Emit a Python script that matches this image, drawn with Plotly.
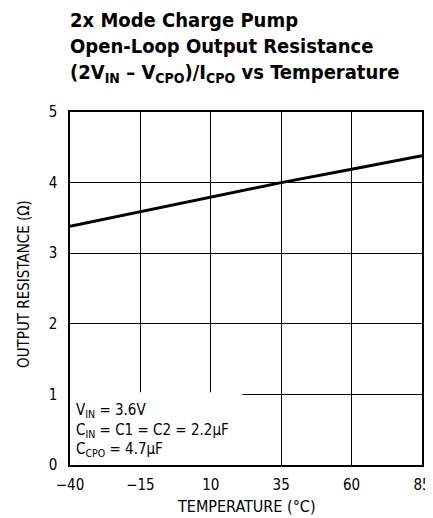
import plotly.graph_objects as go

temperature = [-40, -15, 10, 35, 60, 85]
resistance = [3.38, 3.59, 3.80, 4.00, 4.19, 4.38]
x_ticks = [-40, -15, 10, 35, 60, 85]
y_ticks = [0, 1, 2, 3, 4, 5]

FONT = "DejaVu Sans Condensed, Liberation Sans Narrow, sans-serif"

fig = go.Figure()
fig.add_trace(go.Scatter(x=temperature, y=resistance, mode="lines",
                         line=dict(color="black", width=3), showlegend=False))

fig.add_shape(type="rect", xref="x", yref="y", x0=-40, x1=21.2, y0=0, y1=1.03,
              fillcolor="white", line=dict(width=0), layer="between")

fig.add_annotation(xref="paper", yref="paper", x=0.01, y=0.0, yshift=4, xanchor="left", yanchor="bottom",
                   align="left", showarrow=False,
                   text="V<sub>IN</sub> = 3.6V<br>C<sub>IN</sub> = C1 = C2 = 2.2μF<br>C<sub>CPO</sub> = 4.7μF",
                   font=dict(family=FONT, size=15, color="black"))

fig.add_annotation(xref="paper", yref="paper", x=-0.005, y=1.0, yshift=24, xanchor="left", yanchor="bottom",
                   align="left", showarrow=False,
                   text="<b>2x Mode Charge Pump<br>Open-Loop Output Resistance<br>(2V<sub>IN</sub> – V<sub>CPO</sub>)/I<sub>CPO</sub> vs Temperature</b>",
                   font=dict(family=FONT, size=20, color="black"))

# axis titles
fig.add_annotation(xref="paper", yref="paper", x=0.5, y=0.0, yshift=-41, xanchor="center", yanchor="middle",
                   showarrow=False, text="TEMPERATURE (°C)", font=dict(family=FONT, size=16, color="black"))
fig.add_annotation(xref="paper", yref="paper", x=0.0, y=0.513, xshift=-46, xanchor="center", yanchor="middle",
                   textangle=-90, showarrow=False, text="OUTPUT RESISTANCE (Ω)",
                   font=dict(family=FONT, size=15, color="black"))

fig.update_layout(
    width=425, height=510,
    margin=dict(l=62, r=11, t=104, b=53),
    plot_bgcolor="white", paper_bgcolor="white",
    font=dict(family=FONT, color="black"),
)
fig.update_xaxes(range=[-40, 85], tickvals=x_ticks, showgrid=True, gridcolor="black", gridwidth=1,
                 showline=True, linecolor="black", linewidth=1.5, mirror=True, zeroline=False,
                 ticks="", tickfont=dict(size=15), ticklabelstandoff=5, automargin=False)
fig.update_yaxes(range=[0, 5], tickvals=y_ticks, showgrid=True, gridcolor="black", gridwidth=1,
                 showline=True, linecolor="black", linewidth=1.5, mirror=True, zeroline=False,
                 ticks="", tickfont=dict(size=15), ticklabelstandoff=8, automargin=False)

fig.write_html("out.html")
